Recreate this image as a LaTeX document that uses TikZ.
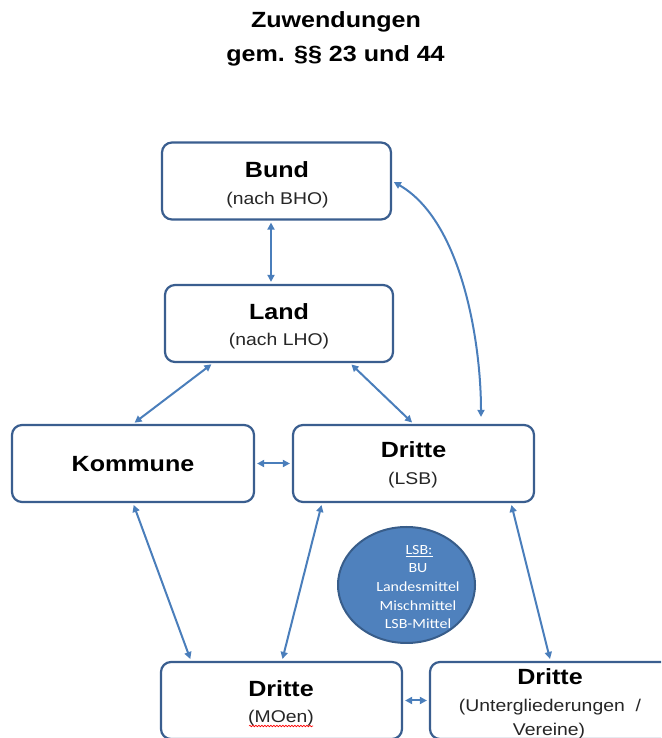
\documentclass[tikz,border=0pt]{standalone}
\usepackage{fontspec}
\setmainfont[FakeStretch=1.14]{Liberation Sans}
\newfontfamily\calib[FakeStretch=1.14]{Carlito}
\usetikzlibrary{arrows.meta,decorations.pathmorphing,shapes.geometric}
\definecolor{boxc}{HTML}{3A5E8F}
\definecolor{arrc}{HTML}{4A7EBB}
\definecolor{ellf}{HTML}{4F81BD}
\definecolor{ellb}{HTML}{385D8A}
\begin{document}
\begin{tikzpicture}[x=1pt,y=1pt,
  box/.style={draw=boxc, line width=2.2pt, rounded corners=10pt, fill=white,
    minimum height=77pt, inner sep=0pt},
  ttl/.style={font=\bfseries\fontsize{22}{26}\selectfont, inner sep=0pt, anchor=base},
  subt/.style={font=\fontsize{17}{20}\selectfont, inner sep=0pt, anchor=base, text=black!85},
  elltxt/.style={font=\calib\fontsize{14}{17}\selectfont, text=white, inner sep=0pt, anchor=base},
  arr/.style={draw=arrc, line width=2pt,
    {Triangle[length=7pt,width=7pt]}-{Triangle[length=7pt,width=7pt]},
    shorten <=2pt, shorten >=2pt}]
\useasboundingbox (0,0) rectangle (661,738);
\clip (0,0) rectangle (661,738);

% title
\node[ttl] (t1) at (336,710) {Zuwendungen};
\node[ttl] (t2) at (335.5,676) {gem. §§ 23 und 44};

% boxes
\node[box, minimum width=229pt] (bund) at (276.5,557) {};
\node[box, minimum width=228pt] (land) at (279,414.5) {};
\node[box, minimum width=242pt] (komm) at (133,274.5) {};
\node[box, minimum width=241pt] (lsb) at (413.5,274.5) {};
\node[box, minimum width=241pt] (moen) at (281.5,37.5) {};
\node[box, minimum width=241pt] (unter) at (550.5,37.5) {};

% box texts
\node[ttl] (bundT) at (277,560) {Bund};
\node[subt] (bundS) at (277.5,533) {(nach BHO)};
\node[ttl] (landT) at (279,418) {Land};
\node[subt] (landS) at (279,392) {(nach LHO)};
\node[ttl] (kommT) at (133,266) {Kommune};
\node[ttl] (lsbT) at (413.5,280) {Dritte};
\node[subt] (lsbS) at (413,253) {(LSB)};
\node[ttl] (moenT) at (281,41) {Dritte};
\node[subt] (moenS) at (281,16) {(MOen)};
\draw[red, line width=0.6pt, decorate,
  decoration={snake, amplitude=0.8pt, segment length=3pt}]
  ([xshift=1pt,yshift=-4pt]moenS.base west) -- ([xshift=-1pt,yshift=-4pt]moenS.base east);
\node[ttl] (unterT) at (550,53) {Dritte};
\node[subt] (unterS1) at (550,26) {(Untergliederungen\ \ /};
\node[subt] (unterS2) at (549,2) {Vereine)};

% ellipse
\node[ellipse, draw=ellb, fill=ellf, line width=2pt, minimum width=137pt,
  minimum height=116pt, inner sep=0pt] (ell) at (406.5,153) {};
\node[elltxt] (e1) at (419,183) {\underline{LSB:}};
\node[elltxt] (e2) at (418,165) {BU};
\node[elltxt] (e3) at (418,146) {Landesmittel};
\node[elltxt] (e4) at (418,127) {Mischmittel};
\node[elltxt] (e5) at (418,109) {LSB-Mittel};

% connectors
\draw[arr] ([xshift=-5.5pt]bund.south) -- ([xshift=-8pt]land.north);
\draw[arr] ([xshift=-66pt]land.south) -- (komm.north);
\draw[arr] ([xshift=71pt]land.south) -- (lsb.north);
\draw[arr, shorten >=7pt] (bund.east) to[out=-30, in=90, looseness=0.8] ([xshift=67.5pt]lsb.north);
\draw[arr] (komm.east) -- (lsb.west);
\draw[arr] (komm.south) -- ([xshift=-90.5pt]moen.north);
\draw[arr] ([xshift=-91.5pt]lsb.south) -- ([xshift=0.5pt]moen.north);
\draw[arr] ([xshift=97.5pt]lsb.south) -- (unter.north);
\draw[arr] (moen.east) -- (unter.west);
\end{tikzpicture}
\end{document}
